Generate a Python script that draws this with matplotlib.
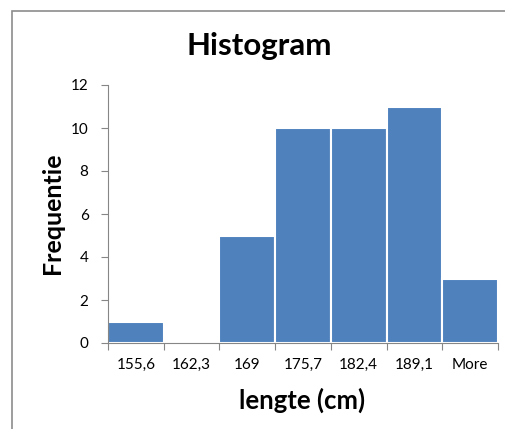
import matplotlib
matplotlib.use('Agg')
import matplotlib.pyplot as plt
from matplotlib.patches import Rectangle

# data
bins = ['155,6', '162,3', '169', '175,7', '182,4', '189,1', 'More']
freq = [1, 0, 5, 10, 10, 11, 3]

plt.rcParams['font.family'] = ['Lato', 'DejaVu Sans']

fig = plt.figure(figsize=(5.05, 4.29), dpi=100)

# chart frame (Excel style, cut off at right/bottom)
fig.patches.append(Rectangle((12 / 505, -0.1), 1.2, 1 - 11 / 429 + 0.1,
                             transform=fig.transFigure, fill=False,
                             edgecolor='#8c8c8c', linewidth=1.2))

ax = fig.add_axes([108 / 505, 1 - 343 / 429, 390 / 505, 258 / 429])

x = list(range(len(bins)))
ax.bar(x, freq, width=1, align='edge', color='#4F81BD',
       edgecolor='white', linewidth=1.5)

ax.set_xlim(0, len(bins))
ax.set_ylim(0, 12)
ax.set_yticks(range(0, 13, 2))

# ticks on bin edges, labels in the middle
ax.set_xticks(range(len(bins) + 1))
ax.set_xticklabels([])
ax.set_xticks([i + 0.5 for i in x], minor=True)
ax.set_xticklabels(bins, minor=True, fontsize=11)
ax.tick_params(axis='x', which='minor', length=0, pad=11)
ax.tick_params(axis='x', which='major', length=5, color='#868686', direction='out')
ax.tick_params(axis='y', length=5, color='#868686', labelsize=11, pad=9)

for s in ['top', 'right']:
    ax.spines[s].set_visible(False)
for s in ['left', 'bottom']:
    ax.spines[s].set_color('#868686')

fig.text(259 / 505, 1 - 46 / 429, 'Histogram', ha='center', va='center',
         fontsize=22.5, fontweight='bold')
fig.text(302 / 505, 1 - 400 / 429, 'lengte (cm)', ha='center', va='center',
         fontsize=18.5, fontweight='bold')
fig.text(52 / 505, 1 - 213 / 429, 'Frequentie', ha='center', va='center',
         rotation=90, fontsize=18, fontweight='bold')

fig.savefig('out.png', dpi=100)
